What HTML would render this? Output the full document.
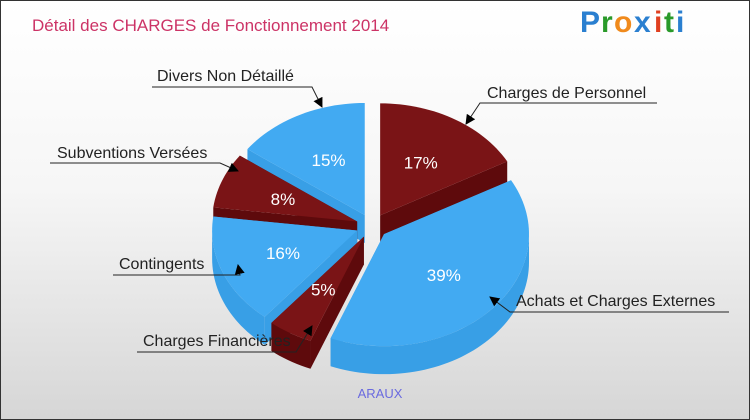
<!DOCTYPE html>
<html><head><meta charset="utf-8"><style>
html,body{margin:0;padding:0}
body{width:750px;height:420px;overflow:hidden;font-family:"Liberation Sans",sans-serif}
#frame{position:absolute;left:0;top:0;width:748px;height:418px;border:1px solid #333;background:linear-gradient(#ffffff 0%,#f6f6f6 45%,#d6d6d6 100%)}
</style></head><body>
<div id="frame">
<svg id="svg" width="750" height="420" style="position:absolute;left:-1px;top:-1px">
<defs><marker id="arr" markerWidth="10" markerHeight="10" refX="9" refY="5" orient="auto" markerUnits="userSpaceOnUse"><path d="M0,0 L10,5 L0,10 z" fill="#000"/></marker></defs>
<text x="32" y="31" font-size="17" fill="#cc3366">Détail des CHARGES de Fonctionnement 2014</text>
<g font-size="30" font-weight="bold" font-family="'Liberation Sans',sans-serif">
<text x="580" y="32" fill="#2a7fd0">P</text><text x="601" y="32" fill="#2a9a2a">r</text><text x="614" y="32" fill="#f08a1c">o</text><text x="634" y="32" fill="#2a7fd0">x</text><text x="654" y="32" fill="#e04020">i</text><text x="664" y="32" fill="#2a9a2a">t</text><text x="676" y="32" fill="#2a7fd0">i</text>
</g>
<g id="slices"></g>
<g id="labels"></g>
<text x="380" y="398" font-size="13" fill="#6a6adf" text-anchor="middle">ARAUX</text>
</svg>
</div>
<script>
const categories=["Charges de Personnel","Achats et Charges Externes","Charges Financières","Contingents","Subventions Versées","Divers Non Détaillé"];
const values=[17,39,5,16,8,15];
const colors=["red","blue","red","blue","red","blue"];
const cx=372,cy=226,rx=145,ry=112,depth=28,explode=16;
const pal={red:{top:"#7a1416",side:"#5e0a0c"},blue:{top:"#42aaf2",side:"#389fe6"}};
const NS="http://www.w3.org/2000/svg";
const g=document.getElementById("slices");
function pt(a,ox,oy,dz){const r=a*Math.PI/180;return [cx+ox+rx*Math.sin(r),cy+oy-ry*Math.cos(r)+(dz||0)];}
function mk(tag,attrs){const e=document.createElementNS(NS,tag);for(const k in attrs)e.setAttribute(k,attrs[k]);return e;}
const total=values.reduce((a,b)=>a+b,0);
let acc=0;const sl=[];
values.forEach((v,i)=>{const a0=acc/total*360;acc+=v;const a1=acc/total*360;const m=(a0+a1)/2*Math.PI/180;
sl.push({i,a0,a1,mid:(a0+a1)/2,ox:explode*Math.sin(m),oy:-explode*Math.cos(m)*ry/rx});});
const order=[...sl].sort((a,b)=>(-Math.cos(a.mid*Math.PI/180))-(-Math.cos(b.mid*Math.PI/180)));
function arcPts(a0,a1,ox,oy,dz){const p=[];const n=Math.max(2,Math.ceil((a1-a0)/2));for(let k=0;k<=n;k++)p.push(pt(a0+(a1-a0)*k/n,ox,oy,dz));return p;}
order.forEach(s=>{
  const c=pal[colors[s.i]];
  const grp=mk("g",{});
  
  
  const C=[cx+s.ox,cy+s.oy];
  [s.a0,s.a1].forEach(a=>{const P=pt(a,s.ox,s.oy);
    grp.appendChild(mk("path",{d:`M${C[0]},${C[1]} L${P[0]},${P[1]} L${P[0]},${P[1]+depth} L${C[0]},${C[1]+depth} Z`,fill:c.side}));});
  const w0=Math.max(s.a0,90),w1=Math.min(s.a1,270);
  if(w1>w0){const top=arcPts(w0,w1,s.ox,s.oy,0),bot=arcPts(w0,w1,s.ox,s.oy,depth).reverse();
    grp.appendChild(mk("path",{d:"M"+top.concat(bot).map(p=>p.join(",")).join(" L")+" Z",fill:c.side}));}
  const t=arcPts(s.a0,s.a1,s.ox,s.oy,0);
  grp.appendChild(mk("path",{d:`M${C[0]},${C[1]} L`+t.map(p=>p.join(",")).join(" L")+" Z",fill:c.top}));
  const lp=pt(s.mid,s.ox,s.oy);const lx=C[0]+(lp[0]-C[0])*0.55,ly=C[1]+(lp[1]-C[1])*0.55;
  const tx=mk("text",{x:lx,y:ly+6,"font-size":"17",fill:"#fff","text-anchor":"middle"});
  
  
  tx.textContent=values[s.i]+"%";grp.appendChild(tx);
  g.appendChild(grp);
});
const callouts=[
 [487,98,"start",657,480,103,466,124],
 [516,306,"start",729,510,312,490,297],
 [143,346,"start",137,296,352,312,326],
 [119,269,"start",113,240,275,238,265],
 [57,158,"start",50,220,163,238,171],
 [157,81,"start",152,312,87,322,107]];
const L=document.getElementById("labels");
callouts.forEach((c,i)=>{
  const gg=mk("g",{});
  
  
  gg.appendChild(mk("path",{d:`M${c[3]},${c[5]} L${c[4]},${c[5]} L${c[6]},${c[7]}`,stroke:"#222",fill:"none","stroke-width":"1","marker-end":"url(#arr)"}));
  const t=mk("text",{x:c[0],y:c[1],"font-size":"16",fill:"#222","text-anchor":c[2]});t.textContent=categories[i];gg.appendChild(t);
  L.appendChild(gg);
});
</script>
</body></html>
